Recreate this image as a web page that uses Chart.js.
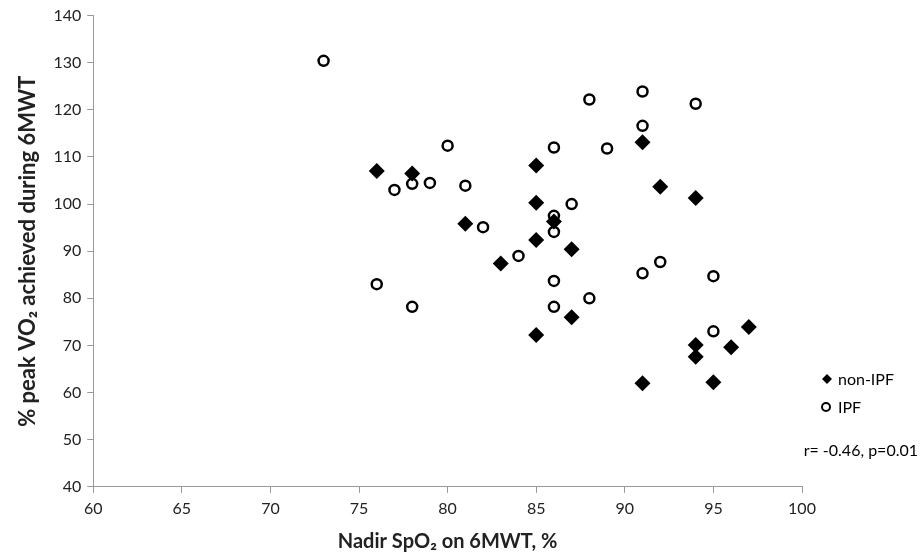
<!DOCTYPE html>
<html>
<head>
<meta charset="utf-8">
<script src="https://cdn.jsdelivr.net/npm/chart.js@4"></script>
<style>
  html, body { margin: 0; padding: 0; background: #fff; }
  #wrap { width: 922px; height: 560px; position: relative; }
</style>
</head>
<body>
<div id="wrap"><canvas id="myChart" width="922" height="560"></canvas></div>
<script>
// Nadir SpO2 (%) and % peak VO2
var nonIpfX = [76, 78, 81, 85, 85, 86, 85, 87, 83, 87, 85, 91, 92, 94, 97, 94, 94, 96, 91, 95];
var nonIpfY = [107.0, 106.5, 95.8, 108.2, 100.3, 96.3, 92.4, 90.4, 87.4, 76.0, 72.2, 113.1, 103.7, 101.3, 73.9, 70.1, 67.6, 69.6, 62.0, 62.2];

var ipfX = [73, 77, 78, 79, 80, 81, 82, 86, 88, 89, 87, 86, 86, 84, 76, 78, 86, 88, 86, 91, 94, 91, 91, 92, 95, 95];
var ipfY = [130.4, 103.0, 104.3, 104.5, 112.4, 103.9, 95.1, 112.0, 122.2, 111.8, 100.0, 97.5, 94.1, 89.0, 83.0, 78.2, 83.7, 80.0, 78.2, 123.9, 121.3, 116.6, 85.3, 87.7, 84.7, 73.0];

var seriesNames = ['non-IPF', 'IPF'];
var statText = 'r= -0.46, p=0.01';

function toPoints(xs, ys) {
  return xs.map(function (x, i) { return { x: x, y: ys[i] }; });
}

var FONT = 'Lato, "Open Sans", "DejaVu Sans", sans-serif';

// draws the small legend and the r/p note to the right of the plot
var sideNotes = {
  id: 'sideNotes',
  afterDraw: function (chart) {
    var c = chart.ctx;
    c.save();
    c.font = '16px ' + FONT;
    c.fillStyle = '#000';
    c.textBaseline = 'middle';
    // diamond
    c.beginPath();
    c.moveTo(827, 374); c.lineTo(832, 379); c.lineTo(827, 384); c.lineTo(822, 379);
    c.closePath(); c.fill();
    c.fillText(seriesNames[0], 838, 380);
    // circle
    c.beginPath();
    c.arc(826, 407, 4, 0, Math.PI * 2);
    c.lineWidth = 2; c.strokeStyle = '#000'; c.stroke();
    c.fillText(seriesNames[1], 838, 408);
    c.textAlign = 'right';
    c.fillText(statText, 918, 451);
    c.restore();
  }
};

var ctx = document.getElementById('myChart').getContext('2d');

var myChart = new Chart(ctx, {
  type: 'scatter',
  data: {
    datasets: [{
      label: seriesNames[0],
      data: toPoints(nonIpfX, nonIpfY),
      pointStyle: 'rectRot',
      pointRadius: 8,
      backgroundColor: '#000',
      borderColor: '#000',
      borderWidth: 0
    }, {
      label: seriesNames[1],
      data: toPoints(ipfX, ipfY),
      pointStyle: 'circle',
      pointRadius: 5,
      backgroundColor: '#fff',
      borderColor: '#000',
      borderWidth: 2.5
    }]
  },
  options: {
    responsive: false,
    animation: false,
    layout: { padding: { left: 11, right: 120, top: 12, bottom: 6 } },
    plugins: {
      legend: { display: false },
      tooltip: { enabled: false }
    },
    scales: {
      x: {
        type: 'linear',
        min: 60, max: 100,
        ticks: { stepSize: 5, color: '#222', font: { size: 16, family: FONT }, padding: 6 },
        grid: { drawOnChartArea: false, drawTicks: true, tickLength: 6, color: '#999' },
        border: { color: '#999' },
        title: { display: true, text: 'Nadir SpO₂ on 6MWT, %', color: '#222', font: { size: 20, weight: 'bold', family: FONT }, padding: { top: 6, bottom: 0 } }
      },
      y: {
        min: 40, max: 140,
        ticks: { stepSize: 10, color: '#222', font: { size: 16, family: FONT }, padding: 6 },
        grid: { drawOnChartArea: false, drawTicks: true, tickLength: 6, color: '#999' },
        border: { color: '#999' },
        title: { display: true, text: '% peak VO₂ achieved during 6MWT', color: '#222', font: { size: 22, weight: 'bold', family: FONT }, padding: { bottom: 6 } }
      }
    }
  },
  plugins: [sideNotes]
});
</script>
</body>
</html>
